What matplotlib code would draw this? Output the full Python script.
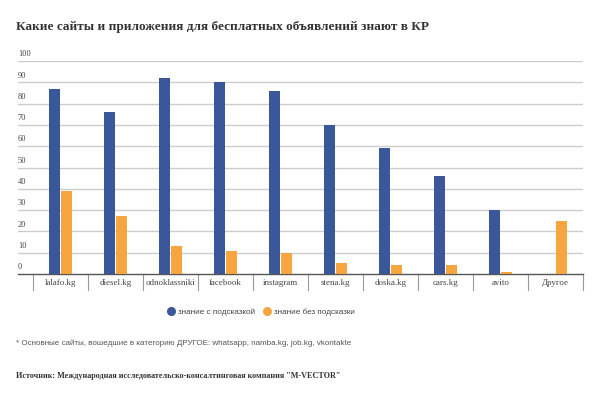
import numpy as np
import matplotlib.pyplot as plt
from matplotlib.lines import Line2D

# --- Data -------------------------------------------------------------------
categories = ["lalafo.kg", "diesel.kg", "odnoklassniki", "facebook", "instagram",
              "stena.kg", "doska.kg", "cars.kg", "avito", "Другое"]
with_hint = [87, 76, 92, 90, 86, 70, 59, 46, 30, 0]
without_hint = [39, 27, 13, 11, 10, 5, 4, 4, 1, 25]
y_ticks = [0, 10, 20, 30, 40, 50, 60, 70, 80, 90, 100]

BLUE = "#3a5799"
ORANGE = "#f7a540"
SERIF = ["Liberation Serif", "DejaVu Serif"]
SANS = ["Liberation Sans Narrow", "Liberation Sans", "DejaVu Sans"]


def main():
    plt.rcParams["font.family"] = SERIF
    fig = plt.figure(figsize=(6.0, 3.99), dpi=100)
    W, H = 600, 399
    ax = fig.add_axes([18 / W, 1 - 274 / H, (583 - 18) / W, (274 - 61) / H])

    x = np.arange(len(categories))
    width = 0.21
    ax.bar(x - 0.11, with_hint, width, color=BLUE, zorder=3)
    ax.bar(x + 0.11, without_hint, width, color=ORANGE, zorder=3)

    left = -0.5 - 15 / 55
    ax.set_xlim(left, len(categories) - 0.5)
    ax.set_ylim(0, 100)

    # horizontal grid lines + y labels sitting above them
    for v in y_ticks[1:]:
        ax.axhline(v, color="#cccccc", lw=1, zorder=1)
    for v in y_ticks:
        ax.text(left, v + 1.3, str(v), fontsize=6, color="#444444",
                ha="left", va="bottom")

    ax.set_yticks([])
    ax.set_xticks([])
    for s in ["top", "right", "left"]:
        ax.spines[s].set_visible(False)
    ax.spines["bottom"].set_color("#555555")
    ax.spines["bottom"].set_linewidth(1)

    # category separators below the axis and labels
    for b in np.arange(-0.5, len(categories), 1.0):
        ax.plot([b, b], [0, -7.5], color="#999999", lw=0.8, clip_on=False)
    for i, c in enumerate(categories):
        ax.text(i, -4.3, c, fontsize=6.4, color="#444444", ha="center",
                va="center", clip_on=False)

    # legend
    handles = [
        Line2D([], [], marker="o", ls="", color=BLUE, markersize=5.5,
               label="знание с подсказкой"),
        Line2D([], [], marker="o", ls="", color=ORANGE, markersize=5.5,
               label="знание без подсказки"),
    ]
    fig.legend(handles=handles, loc="center", bbox_to_anchor=(261 / W, 1 - 312 / H),
               ncol=2, frameon=False, handletextpad=0.4,
               columnspacing=0.9, handlelength=1.0,
               labelcolor="#444444", prop={"family": SANS, "size": 5.9})

    fig.text(16 / W, 1 - 27 / H,
             "Какие сайты и приложения для бесплатных объявлений знают в КР",
             fontsize=9.5, fontweight="bold", color="#333333", va="center")
    fig.text(16 / W, 1 - 343 / H,
             "* Основные сайты, вошедшие в категорию ДРУГОЕ: whatsapp, namba.kg, job.kg, vkontakte",
             fontsize=5.8, color="#555555", va="center", family=SANS)
    fig.text(16 / W, 1 - 376 / H,
             "Источник: Международная исследовательско-консалтинговая компания \"M-VECTOR\"",
             fontsize=5.9, fontweight="bold", color="#333333", va="center")

    fig.savefig("out.png", dpi=100)


if __name__ == "__main__":
    main()
